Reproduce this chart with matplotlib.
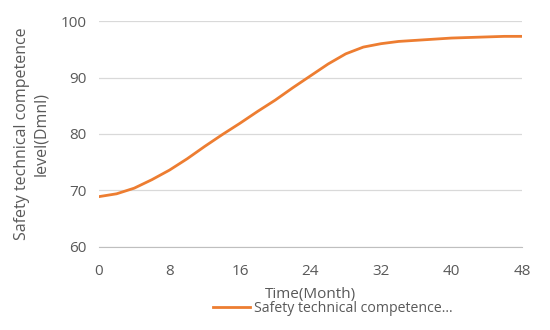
import matplotlib.pyplot as plt

# Data
months = [0, 2, 4, 6, 8, 10, 12, 14, 16, 18, 20, 22, 24,
          26, 28, 30, 32, 34, 36, 38, 40, 42, 44, 46, 48]
level = [68.9, 69.4, 70.4, 71.9, 73.6, 75.6, 77.8, 79.9, 81.9, 84.0, 86.0, 88.2, 90.3,
         92.4, 94.2, 95.4, 96.0, 96.4, 96.6, 96.8, 97.0, 97.1, 97.2, 97.3, 97.3]
xticks = [0, 8, 16, 24, 32, 40, 48]
yticks = [60, 70, 80, 90, 100]

plt.rcParams['font.family'] = ['Open Sans', 'DejaVu Sans']
gray = '#595959'

fig, ax = plt.subplots(figsize=(5.5, 3.3), dpi=100)
fig.subplots_adjust(left=0.18, right=0.949, top=0.936, bottom=0.252)

line, = ax.plot(months, level, color='#ED7D31', linewidth=2.0,
                label='Safety technical competence...')

ax.set_xlim(0, 48)
ax.set_ylim(60, 100)
ax.set_xticks(xticks)
ax.set_yticks(yticks)
ax.grid(axis='y', color='#d9d9d9', linewidth=0.9)
ax.set_axisbelow(True)
for s in ['left', 'right', 'top']:
    ax.spines[s].set_visible(False)
ax.spines['bottom'].set_color('#bfbfbf')
ax.tick_params(axis='both', length=0, colors=gray, labelsize=11)
ax.tick_params(axis='x', pad=12)
ax.tick_params(axis='y', pad=9)

ax.set_xlabel('Time(Month)', color=gray, fontsize=11, labelpad=6)
ax.set_ylabel('Safety technical competence\nlevel(Dmnl)', color=gray, fontsize=11.5,
              labelpad=8, linespacing=1.25)

leg = fig.legend(handles=[line], loc='center', bbox_to_anchor=(0.605, 0.064),
                 frameon=False, fontsize=10.2, handlelength=2.6, handletextpad=0.3)
for t in leg.get_texts():
    t.set_color(gray)

fig.savefig('out.png', dpi=100)
